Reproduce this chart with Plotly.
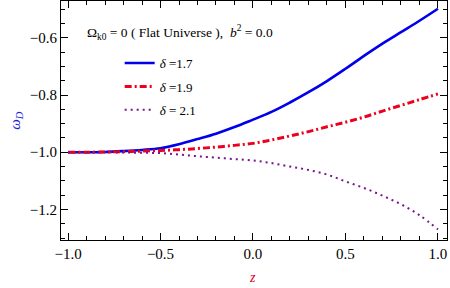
import plotly.graph_objects as go

z = [-1.0, -0.9, -0.8, -0.7, -0.6, -0.5, -0.4, -0.3, -0.2, -0.1, 0.0,
     0.1, 0.2, 0.3, 0.4, 0.5, 0.6, 0.7, 0.8, 0.9, 1.0]
w_17 = [-1.000, -1.000, -0.999, -0.996, -0.992, -0.986, -0.972, -0.954, -0.935, -0.912, -0.886,
        -0.859, -0.826, -0.790, -0.751, -0.708, -0.663, -0.620, -0.580, -0.540, -0.498]
w_19 = [-1.000, -1.000, -0.999, -0.998, -0.996, -0.994, -0.991, -0.987, -0.982, -0.976, -0.969,
        -0.957, -0.943, -0.928, -0.911, -0.895, -0.877, -0.856, -0.836, -0.816, -0.796]
w_21 = [-1.000, -1.000, -1.000, -1.001, -1.002, -1.003, -1.008, -1.014, -1.019, -1.024, -1.029,
        -1.038, -1.050, -1.062, -1.078, -1.102, -1.125, -1.152, -1.182, -1.220, -1.270]
names = ["<i>δ</i> =1.7", "<i>δ</i> =1.9", "<i>δ</i> = 2.1"]
x_ticks = [-1.0, -0.5, 0.0, 0.5, 1.0]
y_ticks = [-1.2, -1.0, -0.8, -0.6]

FONT = "Liberation Serif, Times New Roman, serif"

fig = go.Figure()
styles = [
    dict(color="rgb(0,0,235)", width=2.6, dash="solid"),
    dict(color="rgb(235,0,30)", width=3, dash="7px,3px,2px,3px"),
    dict(color="rgb(120,20,140)", width=2, dash="2px,4px"),
]
for i, (ys, nm) in enumerate(zip([w_17, w_19, w_21], names)):
    fig.add_trace(go.Scatter(x=z, y=ys, mode="lines", name=nm,
                             line=dict(shape="spline", **styles[i]),
                             legendgroup=str(i)))

axis_common = dict(showline=True, linecolor="black", linewidth=1, mirror="allticks",
                   ticks="inside", tickcolor="black", ticklen=7, showgrid=False,
                   zeroline=False, automargin=False,
                   tickfont=dict(family=FONT, size=15, color="black"))
fig.update_xaxes(range=[-1.038, 1.049], tickvals=x_ticks, tickformat=".1f",
                 minor=dict(dtick=0.1, ticks="inside", ticklen=4, tickcolor="black", showgrid=False),
                 **axis_common)
fig.update_yaxes(range=[-1.307, -0.471], tickvals=y_ticks, tickformat=".1f",
                 minor=dict(dtick=0.05, tick0=0, ticks="inside", ticklen=4, tickcolor="black", showgrid=False),
                 **axis_common)

fig.add_annotation(text="<i>z</i>", x=0.497, y=-0.197, xref="paper", yref="paper",
                   showarrow=False, font=dict(family=FONT, size=14, color="rgb(220,0,30)"))
fig.add_annotation(text="<i>ω<sub>D</sub></i>", x=-0.147, y=0.50, xref="paper", yref="paper",
                   showarrow=False, textangle=-90,
                   font=dict(family=FONT, size=15, color="rgb(30,30,220)"))
fig.add_annotation(text="Ω<sub>k0</sub> = 0 ( Flat Universe ),  <i>b</i><sup>2</sup> = 0.0",
                   x=0.062, y=0.918, xref="paper", yref="paper", xanchor="left",
                   showarrow=False, font=dict(family=FONT, size=13.5, color="black"))

fig.update_layout(
    width=450, height=288,
    margin=dict(l=61, r=3, t=1, b=48),
    plot_bgcolor="white", paper_bgcolor="white",
    showlegend=True,
    legend=dict(x=0.152, y=0.803, xanchor="left", yanchor="top",
                bgcolor="rgba(0,0,0,0)", borderwidth=0, tracegroupgap=3.5,
                itemwidth=30,
                font=dict(family=FONT, size=13, color="black")),
)

fig.write_html("out.html", config={"displayModeBar": False},
               post_script="document.body.style.margin='0';document.body.style.overflow='hidden';")
